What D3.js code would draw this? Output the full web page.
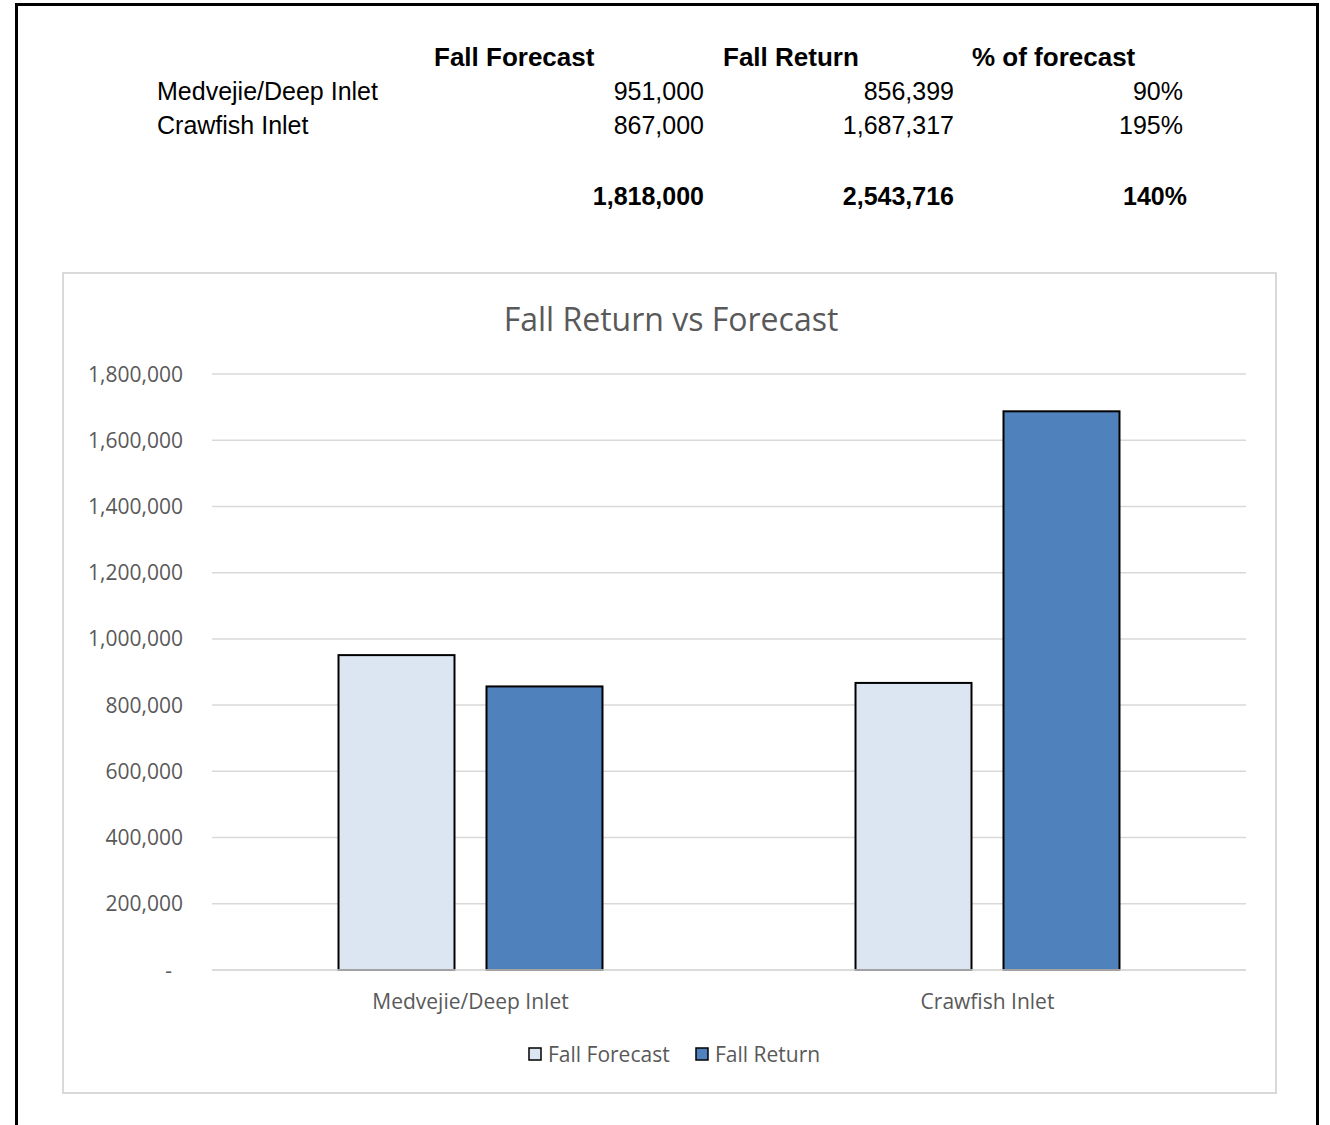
<!DOCTYPE html>
<html>
<head>
<meta charset="utf-8">
<script src="https://cdnjs.cloudflare.com/ajax/libs/d3/7.8.5/d3.min.js"></script>
<style>
  body { margin: 0; background: #fff; }
  svg { display: block; }
</style>
</head>
<body>
<svg id="chart"></svg>
<script>
const width = 1330
const height = 1125

// data
const categories = ["Medvejie/Deep Inlet", "Crawfish Inlet"]
const series = ["Fall Forecast", "Fall Return"]
const forecast = [951000, 867000]
const returns = [856399, 1687317]
const percentLabels = ["90%", "195%"]
const totalLabels = ["1,818,000", "2,543,716", "140%"]
const yTicks = [0, 200000, 400000, 600000, 800000, 1000000, 1200000, 1400000, 1600000, 1800000]

const colors = { "Fall Forecast": "#dce6f2", "Fall Return": "#4f81bd" }

const svg = d3.select("#chart")
            .attr("width", width)
            .attr("height", height)

// outer black frame (open at the bottom)
svg.append("path")
   .attr("d", "M16.5,1130 V4.5 H1317.5 V1130")
   .attr("fill", "none")
   .attr("stroke", "black")
   .attr("stroke-width", 3)

// ---- table on top ----
const tableFont = "'Liberation Sans', Arial, sans-serif"
const colRight = [704, 954, 1183]
const fmt = d3.format(",")

const table = svg.append("g").attr("font-family", tableFont).attr("font-size", 25).attr("fill", "black")

table.selectAll("text.head")
     .data(["Fall Forecast", "Fall Return", "% of forecast"])
     .enter()
     .append("text")
     .attr("class", "head")
     .attr("x", (d, i) => [434, 723, 972][i])
     .attr("y", 66)
     .attr("font-weight", "bold")
     .attr("font-size", 26)
     .text(d => d)

categories.forEach(function(c, i) {
    const y = 100 + i * 34
    table.append("text").attr("x", 157).attr("y", y).text(c)
    const vals = [fmt(forecast[i]), fmt(returns[i]), percentLabels[i]]
    vals.forEach(function(v, j) {
        table.append("text")
             .attr("x", colRight[j])
             .attr("y", y)
             .attr("text-anchor", "end")
             .text(v)
    })
})

totalLabels.forEach(function(v, j) {
    table.append("text")
         .attr("x", j == 2 ? 1187 : colRight[j])
         .attr("y", 205)
         .attr("text-anchor", "end")
         .attr("font-weight", "bold")
         .text(v)
})

// ---- chart box ----
const chartFont = "'Open Sans', sans-serif"
svg.append("rect")
   .attr("x", 63).attr("y", 273)
   .attr("width", 1213).attr("height", 820)
   .attr("fill", "white")
   .attr("stroke", "#d9d9d9")
   .attr("stroke-width", 2)

svg.append("text")
   .attr("x", 671).attr("y", 331)
   .attr("text-anchor", "middle")
   .attr("font-family", chartFont)
   .attr("font-size", 32)
   .attr("fill", "#595959")
   .text("Fall Return vs Forecast")

const x0 = d3.scaleBand()
             .domain(categories)
             .range([212, 1246])
             .paddingInner(0.4894)
             .paddingOuter(0.2447)

const x1 = d3.scaleBand()
             .domain(series)
             .range([0, x0.bandwidth()])
             .paddingInner(0.2162)

const y = d3.scaleLinear()
            .domain([0, 1800000])
            .range([970, 374])

// gridlines
svg.append("g")
   .selectAll("line")
   .data(yTicks)
   .enter()
   .append("line")
   .attr("x1", 212).attr("x2", 1246)
   .attr("y1", d => y(d)).attr("y2", d => y(d))
   .attr("stroke", "#d9d9d9")
   .attr("stroke-width", 1.5)

// y labels
svg.append("g")
   .attr("font-family", chartFont)
   .attr("font-size", 21)
   .attr("fill", "#595959")
   .selectAll("text")
   .data(yTicks)
   .enter()
   .append("text")
   .attr("x", d => d == 0 ? 172 : 183)
   .attr("y", d => y(d))
   .attr("dy", "0.36em")
   .attr("text-anchor", "end")
   .text(d => d == 0 ? "-" : fmt(d))

// bars
const rows = categories.map((c, i) => ({ cat: c, values: [
    { key: "Fall Forecast", value: forecast[i] },
    { key: "Fall Return", value: returns[i] }
]}))

const groups = svg.append("g")
   .selectAll("g")
   .data(rows)
   .enter()
   .append("g")
   .attr("transform", d => "translate(" + x0(d.cat) + ",0)")

groups.selectAll("rect")
      .data(d => d.values)
      .enter()
      .append("rect")
      .attr("x", d => x1(d.key))
      .attr("y", d => y(d.value))
      .attr("width", x1.bandwidth())
      .attr("height", d => y(0) - y(d.value))
      .attr("fill", d => colors[d.key])
      .attr("stroke", "black")
      .attr("stroke-width", 2)

// baseline over the bars
svg.append("line")
   .attr("x1", 212).attr("x2", 1246)
   .attr("y1", y(0)).attr("y2", y(0))
   .attr("stroke", "#d9d9d9")
   .attr("stroke-width", 1.5)

// category labels
svg.append("g")
   .attr("font-family", chartFont)
   .attr("font-size", 21)
   .attr("fill", "#595959")
   .selectAll("text")
   .data(categories)
   .enter()
   .append("text")
   .attr("x", d => x0(d) + x0.bandwidth() / 2)
   .attr("y", 1009)
   .attr("text-anchor", "middle")
   .text(d => d)

// legend
const legend = svg.append("g")
   .attr("font-family", chartFont)
   .attr("font-size", 21)
   .attr("fill", "#595959")

const legendX = [529, 696]
series.forEach(function(s, i) {
    legend.append("rect")
          .attr("x", legendX[i]).attr("y", 1048)
          .attr("width", 12).attr("height", 12)
          .attr("fill", colors[s])
          .attr("stroke", "black")
          .attr("stroke-width", 1.5)
    legend.append("text")
          .attr("x", legendX[i] + 19)
          .attr("y", 1054)
          .attr("dy", "0.36em")
          .text(s)
})
</script>
</body>
</html>
